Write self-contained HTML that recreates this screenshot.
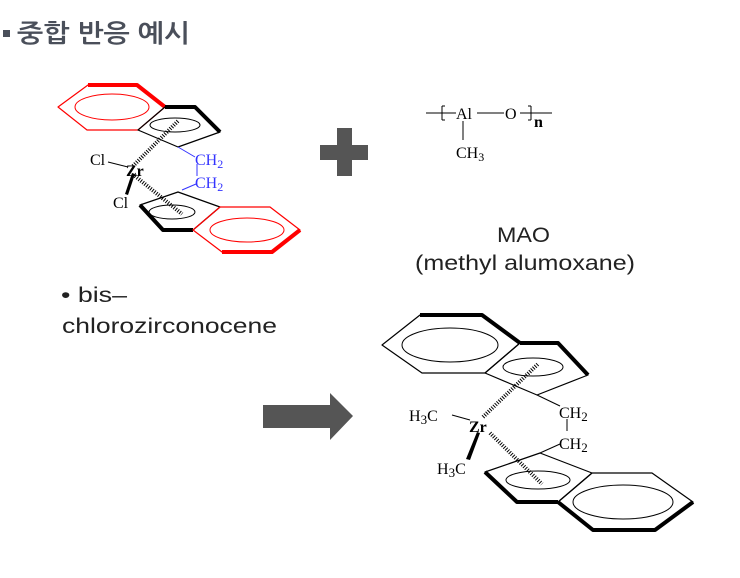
<!DOCTYPE html>
<html><head><meta charset="utf-8"><style>
html,body{margin:0;padding:0;background:#fff}
svg{display:block}
.t{font-family:"Liberation Serif",serif;font-size:16px}
.s{font-family:"Liberation Sans",sans-serif;font-size:21px;fill:#222}
</style></head><body>
<svg width="740" height="578" viewBox="0 0 740 578" xmlns="http://www.w3.org/2000/svg">
<rect x="3" y="30" width="7" height="7" fill="#4a4f5a"/>
<text x="17" y="42" font-family="'Liberation Sans','NanumGothic','Noto Sans CJK KR',sans-serif" font-weight="bold" font-size="25" fill="#4a4f5a" textLength="173" lengthAdjust="spacingAndGlyphs">중합 반응 예시</text>

<!-- top molecule -->
<g fill="none" stroke-linejoin="round">
<polygon points="58,107 88,85 137,85 165,107 138,130 87,130" stroke="#f00" stroke-width="1.2"/>
<polyline points="88,85 137,85 165,107" stroke="#f00" stroke-width="4"/>
<ellipse cx="112" cy="107" rx="37" ry="13" stroke="#f00" stroke-width="1"/>
<polygon points="165,107 195,107 220,132 178,147 138,130" stroke="#000" stroke-width="1.2"/>
<polyline points="165,107 195,107 220,132" stroke="#000" stroke-width="4"/>
<ellipse cx="175" cy="125" rx="25" ry="7" stroke="#000" stroke-width="1"/>
<line x1="133" y1="166" x2="178" y2="121" stroke="#000" stroke-width="4" stroke-dasharray="1,1.5"/>
<line x1="135" y1="176" x2="182" y2="214" stroke="#000" stroke-width="4" stroke-dasharray="1,1.5"/>
<polygon points="178,192 220,207 193,230 163,230 140,205" stroke="#000" stroke-width="1.2"/>
<polyline points="140,205 163,230 193,230" stroke="#000" stroke-width="4"/>
<ellipse cx="172" cy="212" rx="23" ry="7" stroke="#000" stroke-width="1"/>
<polygon points="220,207 270,207 300,230 272,252 222,252 193,230" stroke="#f00" stroke-width="1.2"/>
<polyline points="222,252 272,252 300,230" stroke="#f00" stroke-width="4"/>
<ellipse cx="247" cy="230" rx="37" ry="12" stroke="#f00" stroke-width="1"/>
<line x1="108" y1="162" x2="128" y2="167" stroke="#000"/>
<line x1="178" y1="147" x2="195" y2="157" stroke="#33f"/>
<line x1="197" y1="164" x2="197" y2="176" stroke="#33f"/>
<line x1="182" y1="190" x2="196" y2="184" stroke="#33f"/>
</g>
<polygon points="132,173 135,174 128,195 125,194" fill="#000"/>
<text class="t" x="90" y="165">Cl</text>
<text class="t" x="126" y="176" font-weight="bold">Zr</text>
<text class="t" x="113" y="208">Cl</text>
<text class="t" x="195" y="165" fill="#33f">CH<tspan font-size="12" dy="3">2</tspan></text>
<text class="t" x="195" y="188" fill="#33f">CH<tspan font-size="12" dy="3">2</tspan></text>

<!-- plus -->
<rect x="337" y="128" width="15" height="48" fill="#555"/>
<rect x="320" y="145" width="48" height="15" fill="#555"/>

<!-- MAO -->
<g stroke="#000" stroke-width="1">
<line x1="426" y1="113" x2="456" y2="113"/>
<line x1="442" y1="106" x2="442" y2="120"/><line x1="442" y1="106" x2="445" y2="106"/><line x1="442" y1="120" x2="445" y2="120"/>
<line x1="477" y1="113" x2="504" y2="113"/>
<line x1="520" y1="113" x2="552" y2="113"/>
<line x1="531" y1="106" x2="531" y2="120"/><line x1="528" y1="106" x2="531" y2="106"/><line x1="528" y1="120" x2="531" y2="120"/>
<line x1="463" y1="121" x2="463" y2="140"/>
</g>
<text class="t" x="456" y="119" font-size="17">Al</text>
<text class="t" x="505" y="119" font-size="17">O</text>
<text class="t" x="534" y="127" font-size="14" font-weight="bold">n</text>
<text class="t" x="456" y="158" font-size="17">CH<tspan font-size="12" dy="3">3</tspan></text>

<text class="s" x="497" y="242" textLength="53" lengthAdjust="spacingAndGlyphs">MAO</text>
<text class="s" x="415" y="270" textLength="220" lengthAdjust="spacingAndGlyphs">(methyl alumoxane)</text>
<text class="s" x="61" y="302" textLength="66" lengthAdjust="spacingAndGlyphs">• bis–</text>
<text class="s" x="62" y="333" textLength="215" lengthAdjust="spacingAndGlyphs">chlorozirconocene</text>

<!-- arrow -->
<polygon points="263,405 330,405 330,393 353,416 330,440 330,428 263,428" fill="#555"/>

<!-- bottom molecule -->
<g fill="none" stroke="#000" stroke-linejoin="round">
<polygon points="382,345 420,315 482,315 520,343 485,373 422,373" stroke-width="1.2"/>
<polyline points="420,315 482,315 520,343" stroke-width="4"/>
<ellipse cx="450" cy="345" rx="48" ry="17"/>
<polygon points="520,343 558,343 588,375 537,395 485,373" stroke-width="1.2"/>
<polyline points="520,343 558,343 588,375" stroke-width="4"/>
<ellipse cx="533" cy="367" rx="30" ry="9"/>
<line x1="483" y1="417" x2="538" y2="364" stroke-width="4" stroke-dasharray="1,1.5"/>
<line x1="490" y1="433" x2="542" y2="484" stroke-width="4" stroke-dasharray="1,1.5"/>
<polygon points="540,453 592,473 558,502 517,502 485,472" stroke-width="1.2"/>
<polyline points="485,472 517,502 558,502" stroke-width="4"/>
<ellipse cx="538" cy="480" rx="32" ry="9"/>
<polygon points="592,473 652,473 693,502 655,530 593,530 558,502" stroke-width="1.2"/>
<polyline points="558,502 593,530 655,530 693,502" stroke-width="4"/>
<ellipse cx="623" cy="502" rx="50" ry="17"/>
<line x1="452" y1="415" x2="470" y2="420"/>
<line x1="537" y1="395" x2="560" y2="406"/>
<line x1="567" y1="419" x2="567" y2="431"/>
<line x1="540" y1="453" x2="560" y2="444"/>
</g>
<polygon points="477,432 480,433 470,460 466,459" fill="#000"/>
<text class="t" x="409" y="421" font-size="18">H<tspan font-size="13" dy="3">3</tspan><tspan dy="-3">C</tspan></text>
<text class="t" x="469" y="432" font-size="18" font-weight="bold">Zr</text>
<text class="t" x="437" y="474" font-size="18">H<tspan font-size="13" dy="3">3</tspan><tspan dy="-3">C</tspan></text>
<text class="t" x="559" y="418" font-size="18">CH<tspan font-size="13" dy="3">2</tspan></text>
<text class="t" x="559" y="449" font-size="18">CH<tspan font-size="13" dy="3">2</tspan></text>
</svg>
</body></html>
